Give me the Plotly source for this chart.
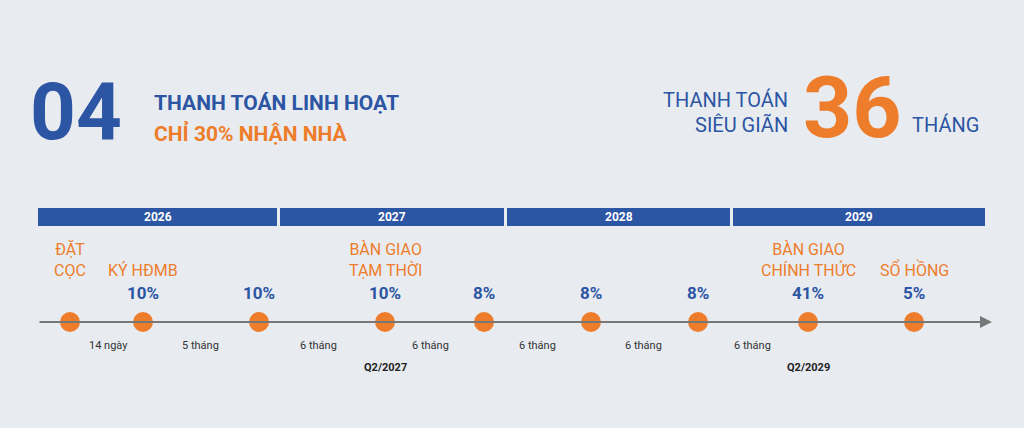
import plotly.graph_objects as go

BLUE = "#2c55a3"
ORANGE = "#ee7d2b"

# timeline data
point_pos = [70, 143, 259, 385, 484, 591, 698, 808, 914]
percent = ["", "10%", "10%", "10%", "8%", "8%", "8%", "41%", "5%"]
milestones = {70: "ĐẶT<br>CỌC", 143: "KÝ HĐMB", 385: "BÀN GIAO<br>TẠM THỜI",
              808: "BÀN GIAO<br>CHÍNH THỨC", 914: "SỔ HỒNG"}
interval_pos = [108, 200, 318, 430, 537, 643, 752]
interval_lbl = ["14 ngày", "5 tháng", "6 tháng", "6 tháng", "6 tháng", "6 tháng", "6 tháng"]
quarter_pos = [385, 808]
quarter_lbl = ["Q2/2027", "Q2/2029"]
years = ["2026", "2027", "2028", "2029"]
year_start = [38, 280, 507, 733]
year_end = [277, 504, 730, 985]

FONT = "Roboto"

fig = go.Figure()
fig.add_trace(go.Scatter(x=point_pos, y=[322] * len(point_pos), mode="markers",
                         marker=dict(size=20, color=ORANGE, line=dict(width=0)),
                         hoverinfo="skip"))

shapes = []
ann = []
for y, s, e in zip(years, year_start, year_end):
    shapes.append(dict(type="rect", x0=s, x1=e, y0=208, y1=226, fillcolor=BLUE,
                       line=dict(width=0), layer="below"))
    ann.append(dict(x=(s + e) / 2, y=217, text="<b>%s</b>" % y, showarrow=False,
                    font=dict(family=FONT, size=12, color="white")))
ann.append(dict(x=992, y=322, ax=38, ay=322, xref="x", yref="y", axref="x", ayref="y",
                text="", showarrow=True, arrowhead=2, arrowsize=1.2, arrowwidth=2,
                arrowcolor="#777777"))
for x, p in zip(point_pos, percent):
    if p:
        ann.append(dict(x=x, y=293, text="<b>%s</b>" % p, showarrow=False,
                        font=dict(family=FONT, size=17, color=BLUE)))
for x, t in milestones.items():
    ann.append(dict(x=x, y=282, yanchor="bottom", text=t, showarrow=False,
                    font=dict(family=FONT, size=16, color=ORANGE)))
for x, t in zip(interval_pos, interval_lbl):
    ann.append(dict(x=x, y=345, text=t, showarrow=False,
                    font=dict(family=FONT, size=11, color="#333333")))
for x, t in zip(quarter_pos, quarter_lbl):
    ann.append(dict(x=x, y=367, text="<b>%s</b>" % t, showarrow=False,
                    font=dict(family=FONT, size=11, color="#222222")))

# header
ann += [
    dict(x=28, y=112, xanchor="left", text="<b>04</b>", showarrow=False,
         font=dict(family=FONT, size=80, weight=900, color=BLUE)),
    dict(x=152, y=103, xanchor="left", text="<b>THANH TOÁN LINH HOẠT</b>", showarrow=False,
         font=dict(family=FONT, size=21, color=BLUE)),
    dict(x=152, y=133, xanchor="left", text="<b>CHỈ 30% NHẬN NHÀ</b>", showarrow=False,
         font=dict(family=FONT, size=21, color=ORANGE)),
    dict(x=790, y=100, xanchor="right", text="THANH TOÁN", showarrow=False,
         font=dict(family=FONT, size=20, color=BLUE)),
    dict(x=790, y=125, xanchor="right", text="SIÊU GIÃN", showarrow=False,
         font=dict(family=FONT, size=20, color=BLUE)),
    dict(x=852, y=107, text="<b>36</b>", showarrow=False,
         font=dict(family=FONT, size=86, weight=900, color=ORANGE)),
    dict(x=910, y=125, xanchor="left", text="THÁNG", showarrow=False,
         font=dict(family=FONT, size=20, color=BLUE)),
]

fig.update_layout(
    width=1024, height=428, margin=dict(l=0, r=0, t=0, b=0),
    paper_bgcolor="#e8ecf1", plot_bgcolor="rgba(0,0,0,0)", showlegend=False,
    xaxis=dict(range=[0, 1024], visible=False, fixedrange=True),
    yaxis=dict(range=[428, 0], visible=False, fixedrange=True),
    shapes=shapes, annotations=ann,
)
fig.write_html("out.html", config={"displayModeBar": False},
               post_script="document.body.style.margin='0';document.body.style.overflow='hidden';")
